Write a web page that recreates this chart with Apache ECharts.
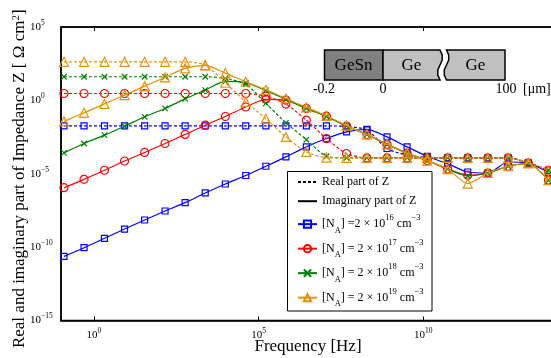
<!DOCTYPE html>
<html><head><meta charset="utf-8">
<script src="https://cdn.jsdelivr.net/npm/echarts@6/dist/echarts.min.js"></script>
<style>html,body{margin:0;padding:0;background:#fff}#c{width:551px;height:358px}</style>
</head><body><div id="c"></div>
<script>
// log10 of frequency [Hz] at each plotted point
const logFreq = [-0.91, -0.30, 0.32, 0.93, 1.54, 2.16, 2.77, 3.38, 3.99, 4.61, 5.22, 5.83, 6.45, 7.06, 7.67, 8.29, 8.90, 9.51, 10.12, 10.74, 11.35, 11.96, 12.58, 13.19, 13.80];
// log10 |Z| [Ohm cm^2]
const blueImag   = [-10.63, -10.04, -9.40, -8.77, -8.15, -7.54, -6.97, -6.31, -5.70, -5.12, -4.49, -3.85, -3.17, -2.60, -2.15, -1.98, -2.49, -3.17, -3.81, -4.32, -4.88, -4.95, -4.20, -4.28, -4.90];
const blueReal   = [-1.74, -1.74, -1.74, -1.74, -1.74, -1.74, -1.74, -1.74, -1.74, -1.74, -1.74, -1.74, -1.74, -1.74, -1.78, -2.02, -3.28, -3.72, -3.90, -3.92, -3.92, -3.92, -3.92, -4.26, -4.76];
const redImag    = [-5.95, -5.38, -4.76, -4.13, -3.55, -2.94, -2.32, -1.69, -1.10, -0.45, 0.07, 0.02, -0.55, -1.08, -1.75, -2.33, -3.00, -3.60, -4.10, -4.68, -5.10, -4.95, -4.49, -4.30, -5.44];
const redReal    = [0.47, 0.47, 0.47, 0.47, 0.47, 0.47, 0.47, 0.47, 0.47, 0.47, 0.28, -0.25, -1.35, -2.60, -3.62, -3.92, -3.92, -3.92, -3.92, -3.92, -3.92, -3.92, -3.92, -4.26, -4.76];
const greenImag  = [-3.58, -2.94, -2.37, -1.76, -1.12, -0.55, 0.10, 0.70, 1.30, 1.20, 0.68, 0.07, -0.55, -1.10, -1.75, -2.33, -3.00, -3.60, -4.10, -4.68, -5.15, -4.95, -4.49, -4.30, -5.44];
const greenReal  = [1.61, 1.61, 1.61, 1.61, 1.61, 1.61, 1.61, 1.61, 1.50, 1.10, -0.20, -1.53, -2.67, -3.81, -3.92, -3.92, -3.92, -3.92, -3.92, -3.92, -3.92, -3.92, -3.92, -4.26, -4.76];
const orangeImag = [-1.43, -0.85, -0.24, 0.36, 0.97, 1.57, 2.18, 2.38, 1.86, 1.27, 0.72, 0.13, -0.48, -1.05, -1.72, -2.33, -3.00, -3.60, -4.10, -4.68, -5.67, -4.95, -4.49, -4.30, -5.44];
const orangeReal = [2.63, 2.63, 2.63, 2.63, 2.63, 2.63, 2.63, 2.40, 1.20, -0.10, -1.25, -2.49, -3.51, -3.90, -3.92, -3.92, -3.92, -3.92, -3.92, -3.92, -3.92, -3.92, -3.92, -4.26, -4.76];

const seriesKeys = ['NA16', 'NA17', 'NA18', 'NA19'];
const legendLabels = {
  'Real part of Z': 'Real part of Z',
  'Imaginary part of Z': 'Imaginary part of Z',
  'NA16': '[N{sub|A}] =2 × 10{sup|16} cm{sup|−3}',
  'NA17': '[N{sub|A}] = 2 × 10{sup|17} cm{sup|−3}',
  'NA18': '[N{sub|A}] = 2 × 10{sup|18} cm{sup|−3}',
  'NA19': '[N{sub|A}] = 2 × 10{sup|19} cm{sup|−3}'
};
const xTickExps = [0, 5, 10];

const FONT = 'Liberation Serif';
function pts(ys) { return logFreq.map((x, i) => [x, ys[i]]); }
function expLabel(v) {
  const s = v < 0 ? '−' + (-v) : String(v);
  return '{b|10}{s|' + s + '}';
}
const tickRich = {
  b: {fontFamily: FONT, fontSize: 11, lineHeight: 16, color: '#000'},
  s: {fontFamily: FONT, fontSize: 7.5, lineHeight: 2, verticalAlign: 'top', color: '#000'}
};

const defs = [
  {name: 'NA16', color: '#0000ff', symbol: 'rect', size: 6, imag: blueImag, real: blueReal},
  {name: 'NA17', color: '#ff0000', symbol: 'circle', size: 8, imag: redImag, real: redReal},
  {name: 'NA18', color: '#008000', symbol: 'path://M0,0L10,10M10,0L0,10', size: 5.5, imag: greenImag, real: greenReal},
  {name: 'NA19', color: '#e8900c', symbol: 'triangle', size: 9, imag: orangeImag, real: orangeReal}
];

const clear = 'rgba(0,0,0,0)';
const series = [
  {name: 'Real part of Z', type: 'line', data: [], symbol: 'none', color: '#000',
   itemStyle: {color: clear, borderColor: clear, borderWidth: 0},
   lineStyle: {color: '#000', width: 1.2, type: [3, 2]}},
  {name: 'Imaginary part of Z', type: 'line', data: [], symbol: 'none', color: '#000',
   itemStyle: {color: clear, borderColor: clear, borderWidth: 0},
   lineStyle: {color: '#000', width: 1.2}}
];
defs.forEach((d, k) => {
  const common = {
    type: 'line', name: d.name, symbol: d.symbol, symbolSize: d.size, showAllSymbol: true,
    color: d.color, smooth: 0.25, z: 2 + k * 0.1,
    itemStyle: {color: clear, borderColor: d.color, borderWidth: 1.2},
    emphasis: {disabled: true}
  };
  series.push(Object.assign({}, common, {data: pts(d.imag), lineStyle: {color: d.color, width: 1.2}}));
  series.push(Object.assign({}, common, {data: pts(d.real), lineStyle: {color: d.color, width: 1.2, type: [3, 2]}}));
});

const textFont = (px) => px + 'px "' + FONT + '"';
function gText(text, x, y, px, align) {
  return {type: 'text', z: 20, style: {text: text, x: x, y: y, font: textFont(px), fill: '#000',
    align: align || 'center', verticalAlign: 'middle', textAlign: align || 'center', textVerticalAlign: 'middle'}};
}

const chart = echarts.init(document.getElementById('c'), null, {renderer: 'canvas'});
chart.setOption({
  animation: false,
  backgroundColor: '#fff',
  grid: {left: 61, top: 27, width: 494, height: 293.5, containLabel: false, outerBoundsMode: 'none',
         show: true, borderColor: '#000', borderWidth: 1.5, backgroundColor: 'rgba(0,0,0,0)'},
  xAxis: [
    {type: 'value', min: -1, max: 14, splitNumber: 3, position: 'bottom',
     axisLine: {show: true, onZero: false, lineStyle: {color: '#000', width: 1.5}},
     axisTick: {show: true, inside: true, length: 4, lineStyle: {color: '#000', width: 1}},
     splitLine: {show: false},
     axisLabel: {margin: 7, formatter: v => xTickExps.indexOf(v) >= 0 ? expLabel(v) : '', rich: tickRich},
     name: 'Frequency [Hz]', nameLocation: 'middle', nameGap: 18, nameMoveOverlap: false,
     nameTextStyle: {fontFamily: FONT, fontSize: 17, color: '#000'}},
    {type: 'value', min: -1, max: 14, splitNumber: 3, position: 'top',
     axisLine: {show: true, onZero: false, lineStyle: {color: '#000', width: 1.5}},
     axisTick: {show: true, inside: true, length: 4, lineStyle: {color: '#000', width: 1}},
     splitLine: {show: false}, axisLabel: {show: false}}
  ],
  yAxis: {
    type: 'value', min: -15, max: 5, interval: 5, position: 'left',
    axisLine: {show: true, onZero: false, lineStyle: {color: '#000', width: 1.5}},
    axisTick: {show: false}, splitLine: {show: false},
    axisLabel: {align: 'left', margin: 31, formatter: v => expLabel(v), rich: tickRich},
    name: 'Real and imaginary part of Impedance Z [ Ω cm{s|2}]',
    nameLocation: 'middle', nameRotate: 90, nameGap: 33, nameMoveOverlap: false,
    nameTextStyle: {fontFamily: FONT, fontSize: 17, color: '#000', padding: [0, 10, 0, 0],
      rich: {s: {fontFamily: FONT, fontSize: 11, lineHeight: 4, verticalAlign: 'top', color: '#000'}}}
  },
  legend: {
    orient: 'vertical', left: 297, top: 175, padding: 0, itemGap: 3, itemWidth: 19, itemHeight: 9,
    selectedMode: false, z: 30,
    data: [
      {name: 'Real part of Z', textStyle: {lineHeight: 14}},
      {name: 'Imaginary part of Z', textStyle: {lineHeight: 18.4}},
      {name: 'NA16', textStyle: {lineHeight: 21.5}},
      {name: 'NA17', textStyle: {lineHeight: 21.5}},
      {name: 'NA18', textStyle: {lineHeight: 21.5}},
      {name: 'NA19', textStyle: {lineHeight: 21.5}}
    ],
    formatter: n => legendLabels[n],
    textStyle: {fontFamily: FONT, fontSize: 12, color: '#000',
      rich: {
        sub: {fontFamily: FONT, fontSize: 8.5, lineHeight: 9.5, verticalAlign: 'bottom', color: '#000'},
        sup: {fontFamily: FONT, fontSize: 8.5, lineHeight: 9.5, verticalAlign: 'top', color: '#000'}
      }}
  },
  graphic: [
    {type: 'rect', z: 25, shape: {x: 287.5, y: 171.5, width: 144.5, height: 139.5},
     style: {fill: '#fff', stroke: '#000', lineWidth: 1}},
    {type: 'rect', z: 20, shape: {x: 324.5, y: 50, width: 58.5, height: 30},
     style: {fill: '#808080', stroke: '#000', lineWidth: 1.5}},
    {type: 'polygon', z: 20, shape: {points: [[383, 50], [440, 50], [442.2, 55], [442.2, 60], [440, 65], [437.8, 70], [437.8, 75], [440, 80], [383, 80]]},
     style: {fill: '#c0c0c0', stroke: '#000', lineWidth: 1.5}},
    {type: 'polygon', z: 20, shape: {points: [[446.5, 50], [505, 50], [505, 80], [446.5, 80], [444.3, 75], [444.3, 70], [446.5, 65], [448.7, 60], [448.7, 55]]},
     style: {fill: '#c0c0c0', stroke: '#000', lineWidth: 1.5}},
    gText('GeSn', 353.5, 65.5, 17),
    gText('Ge', 411.5, 65.5, 17),
    gText('Ge', 475.5, 65.5, 17),
    gText('-0.2', 324, 89, 14),
    gText('0', 383, 89, 14),
    gText('100', 506, 89, 14),
    gText('[μm]', 523, 89, 14, 'left')
  ],
  series: series
});
</script></body></html>
